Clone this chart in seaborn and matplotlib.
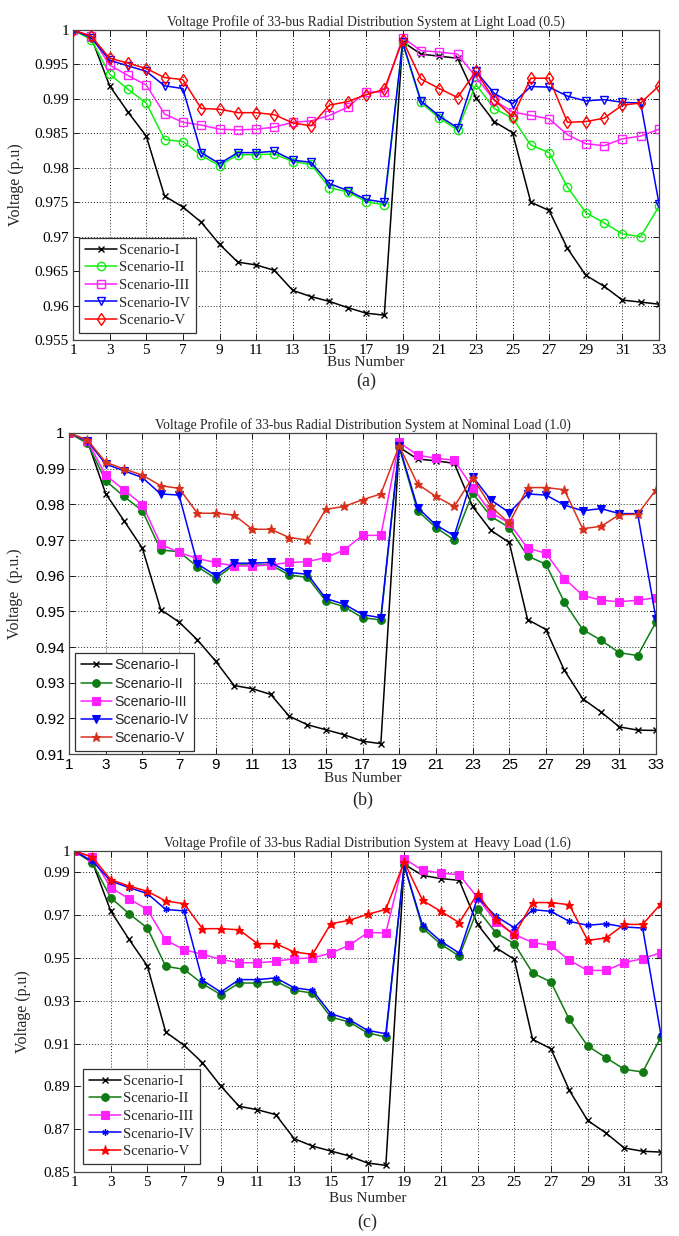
import numpy as np
import pandas as pd
import matplotlib
matplotlib.use("Agg")
import matplotlib.pyplot as plt
import seaborn as sns
from matplotlib.ticker import FixedLocator, FuncFormatter

# ---------------- data ----------------
buses = list(range(1, 34))
scenarios = ["Scenario-I", "Scenario-II", "Scenario-III", "Scenario-IV", "Scenario-V"]

# (a) light load 0.5
light_I = [1, 0.9989, 0.9919, 0.9881, 0.9846, 0.9759, 0.9743, 0.9721, 0.9689, 0.9663, 0.9659,
           0.9651, 0.9622, 0.9613, 0.9606, 0.9597, 0.9589, 0.9586, 0.9983, 0.9965, 0.9962, 0.9959,
           0.9902, 0.9867, 0.9851, 0.9750, 0.9738, 0.9683, 0.9644, 0.9628, 0.9608, 0.9605, 0.9602]
light_II = [1, 0.9986, 0.9936, 0.9914, 0.9894, 0.9841, 0.9838, 0.9818, 0.9803, 0.9819, 0.9819,
            0.9820, 0.9809, 0.9805, 0.9771, 0.9765, 0.9751, 0.9746, 0.9981, 0.9895, 0.9872, 0.9855,
            0.9921, 0.9886, 0.9872, 0.9833, 0.9822, 0.9772, 0.9735, 0.9720, 0.9704, 0.9700, 0.9744]
light_III = [1, 0.9991, 0.9949, 0.9934, 0.9920, 0.9878, 0.9866, 0.9862, 0.9856, 0.9855, 0.9856,
             0.9859, 0.9866, 0.9868, 0.9876, 0.9888, 0.9910, 0.9910, 0.9989, 0.9970, 0.9968, 0.9965,
             0.9932, 0.9898, 0.9881, 0.9876, 0.9871, 0.9848, 0.9835, 0.9832, 0.9842, 0.9846, 0.9856]
light_IV = [1, 0.9989, 0.9956, 0.9948, 0.9940, 0.9919, 0.9915, 0.9822, 0.9806, 0.9822, 0.9822,
            0.9824, 0.9811, 0.9808, 0.9777, 0.9767, 0.9754, 0.9750, 0.9982, 0.9897, 0.9875, 0.9858,
            0.9940, 0.9908, 0.9893, 0.9918, 0.9917, 0.9904, 0.9897, 0.9899, 0.9895, 0.9894, 0.9748]
light_V = [1, 0.9991, 0.9959, 0.9952, 0.9944, 0.9931, 0.9928, 0.9886, 0.9885, 0.9880, 0.9880,
           0.9877, 0.9865, 0.9861, 0.9891, 0.9896, 0.9906, 0.9914, 0.9985, 0.9929, 0.9915, 0.9902,
           0.9940, 0.9899, 0.9874, 0.9930, 0.9930, 0.9866, 0.9867, 0.9872, 0.9891, 0.9894, 0.9919]

# (b) nominal load 1.0
nominal_I = [1, 0.9978, 0.9830, 0.9754, 0.9677, 0.9505, 0.9470, 0.9420, 0.9360, 0.9292, 0.9283,
             0.9267, 0.9206, 0.9182, 0.9168, 0.9154, 0.9136, 0.9129, 0.9960, 0.9927, 0.9922, 0.9915,
             0.9794, 0.9727, 0.9693, 0.9477, 0.9449, 0.9335, 0.9255, 0.9218, 0.9176, 0.9167, 0.9166]
nominal_II = [1, 0.9971, 0.9866, 0.9822, 0.9782, 0.9672, 0.9667, 0.9625, 0.9592, 0.9630, 0.9630,
              0.9630, 0.9602, 0.9595, 0.9529, 0.9513, 0.9482, 0.9476, 0.9960, 0.9782, 0.9735, 0.9700,
              0.9831, 0.9766, 0.9735, 0.9655, 0.9632, 0.9526, 0.9449, 0.9419, 0.9384, 0.9376, 0.9470]
nominal_III = [1, 0.9978, 0.9882, 0.9840, 0.9799, 0.9688, 0.9665, 0.9648, 0.9637, 0.9627, 0.9627,
               0.9630, 0.9637, 0.9639, 0.9651, 0.9672, 0.9713, 0.9713, 0.9974, 0.9938, 0.9929, 0.9924,
               0.9847, 0.9777, 0.9747, 0.9677, 0.9663, 0.9592, 0.9545, 0.9531, 0.9527, 0.9531, 0.9538]
nominal_IV = [1, 0.9978, 0.9913, 0.9894, 0.9875, 0.9829, 0.9826, 0.9633, 0.9600, 0.9635, 0.9635,
              0.9637, 0.9609, 0.9604, 0.9536, 0.9520, 0.9491, 0.9482, 0.9964, 0.9791, 0.9742, 0.9712,
              0.9878, 0.9812, 0.9777, 0.9829, 0.9826, 0.9798, 0.9782, 0.9788, 0.9774, 0.9774, 0.9479]
nominal_V = [1, 0.9981, 0.9918, 0.9899, 0.9882, 0.9852, 0.9845, 0.9775, 0.9775, 0.9770, 0.9730,
             0.9730, 0.9707, 0.9700, 0.9786, 0.9794, 0.9813, 0.9829, 0.9964, 0.9857, 0.9822, 0.9794,
             0.9875, 0.9794, 0.9747, 0.9847, 0.9847, 0.9841, 0.9732, 0.9738, 0.9771, 0.9772, 0.9841]

# (c) heavy load 1.6
heavy_I = [1, 0.9949, 0.9720, 0.9587, 0.9463, 0.9154, 0.9092, 0.9011, 0.8902, 0.8807, 0.8791,
           0.8768, 0.8656, 0.8621, 0.8598, 0.8575, 0.8542, 0.8531, 0.9938, 0.9886, 0.9871, 0.9863,
           0.9657, 0.9548, 0.9494, 0.9120, 0.9076, 0.8882, 0.8741, 0.8682, 0.8612, 0.8597, 0.8593]
heavy_II = [1, 0.9945, 0.9782, 0.9707, 0.9640, 0.9461, 0.9447, 0.9380, 0.9329, 0.9383, 0.9383,
            0.9391, 0.9349, 0.9336, 0.9224, 0.9201, 0.9150, 0.9131, 0.9933, 0.9640, 0.9564, 0.9509,
            0.9727, 0.9618, 0.9567, 0.9430, 0.9388, 0.9213, 0.9089, 0.9034, 0.8980, 0.8967, 0.9131]
heavy_III = [1, 0.9972, 0.9829, 0.9777, 0.9726, 0.9583, 0.9539, 0.9517, 0.9494, 0.9478, 0.9478,
             0.9484, 0.9497, 0.9500, 0.9523, 0.9559, 0.9618, 0.9618, 0.9964, 0.9910, 0.9897, 0.9889,
             0.9782, 0.9668, 0.9611, 0.9572, 0.9559, 0.9489, 0.9442, 0.9442, 0.9478, 0.9497, 0.9525]
heavy_IV = [1, 0.9953, 0.9860, 0.9829, 0.9801, 0.9727, 0.9720, 0.9396, 0.9341, 0.9399, 0.9399,
            0.9407, 0.9361, 0.9349, 0.9240, 0.9212, 0.9162, 0.9146, 0.9933, 0.9653, 0.9578, 0.9523,
            0.9782, 0.9695, 0.9642, 0.9726, 0.9718, 0.9671, 0.9653, 0.9660, 0.9645, 0.9640, 0.9139]
heavy_V = [1, 0.9972, 0.9866, 0.9836, 0.9812, 0.9766, 0.9754, 0.9637, 0.9637, 0.9632, 0.9567,
           0.9567, 0.9528, 0.9517, 0.9660, 0.9676, 0.9704, 0.9727, 0.9949, 0.9769, 0.9718, 0.9665,
           0.9801, 0.9679, 0.9606, 0.9759, 0.9759, 0.9749, 0.9583, 0.9593, 0.9657, 0.9657, 0.9754]

xtick_labels = list(range(1, 34, 2))
yticks_a = [0.955, 0.96, 0.965, 0.97, 0.975, 0.98, 0.985, 0.99, 0.995, 1.0]
yticks_b = [0.91, 0.92, 0.93, 0.94, 0.95, 0.96, 0.97, 0.98, 0.99, 1.0]
yticks_c = [0.85, 0.87, 0.89, 0.91, 0.93, 0.95, 0.97, 0.99, 1.0]

titles = ["Voltage Profile of 33-bus Radial Distribution System at Light Load (0.5)",
          "Voltage Profile of 33-bus Radial Distribution System at Nominal Load (1.0)",
          "Voltage Profile of 33-bus Radial Distribution System at  Heavy Load (1.6)"]
ylabels = ["Voltage (p.u)", "Voltage  (p.u.)", "Voltage (p.u)"]
panel_tags = ["(a)", "(b)", "(c)"]

# ---------------- style ----------------
sns.set_theme(style="ticks")
SERIF = ["Liberation Serif", "DejaVu Serif"]
SANS = ["Liberation Sans", "DejaVu Sans"]
plt.rcParams["font.family"] = SERIF

fig = plt.figure(figsize=(6.79, 12.36), dpi=100)
W, H = 679.0, 1236.0


def add_ax(x0, y0, x1, y1):
    return fig.add_axes([x0 / W, 1 - y1 / H, (x1 - x0) / W, (y1 - y0) / H])


panels = [
    dict(box=(73, 30, 659, 340), data=[light_I, light_II, light_III, light_IV, light_V],
         yticks=yticks_a, colors=["black", "#11ee11", "#ff22ff", "#0000ff", "#ff0000"],
         markers=["x", "o", "s", "v", "d"], filled=False, tickfont=SERIF, legfont=SERIF,
         legsize=10.5, ylab_x=24, xlab_y=356, tag_y=381, title_y=15, leg=(79, 333)),
    dict(box=(69, 433, 656, 754), data=[nominal_I, nominal_II, nominal_III, nominal_IV, nominal_V],
         yticks=yticks_b, colors=["black", "#0b7d12", "#ff22ff", "#0000ff", "#d9301c"],
         markers=["x", "o", "s", "v", "*"], filled=True, tickfont=SANS, legfont=SANS,
         legsize=10.2, ylab_x=23, xlab_y=772, tag_y=800, title_y=419, leg=(75, 751)),
    dict(box=(74, 851, 661, 1172), data=[heavy_I, heavy_II, heavy_III, heavy_IV, heavy_V],
         yticks=yticks_c, colors=["black", "#127a12", "#ff22ff", "#0000ff", "#ff0000"],
         markers=["x", "o", "s", (6, 2, 0), "*"], filled=True, tickfont=SERIF, legfont=SERIF,
         legsize=10.5, ylab_x=31, xlab_y=1192, tag_y=1222, title_y=837, leg=(83, 1164)),
]

for i, p in enumerate(panels):
    x0, y0, x1, y1 = p["box"]
    ax = add_ax(x0, y0, x1, y1)
    for name, vals, col, mk in zip(scenarios, p["data"], p["colors"], p["markers"]):
        kw = dict(marker=mk, color=col, linewidth=1.1, markeredgecolor=col)
        if mk == "x" or isinstance(mk, tuple):
            kw.update(markersize=4.5, markeredgewidth=1.0)
        elif p["filled"]:
            kw.update(markersize=6.5 if mk == "*" else 5.5, markerfacecolor=col, markeredgewidth=0.8)
        else:
            kw.update(markersize=6, markerfacecolor="none", markeredgewidth=1.0)
        sns.lineplot(x=buses, y=vals, ax=ax, label=name, **kw)

    ax.set_xlim(1, 33)
    ax.set_ylim(p["yticks"][0], p["yticks"][-1])
    ax.xaxis.set_major_locator(FixedLocator(xtick_labels))
    ax.yaxis.set_major_locator(FixedLocator(p["yticks"]))
    ax.yaxis.set_major_formatter(FuncFormatter(lambda v, _: "%g" % round(v, 4)))
    ax.grid(True, color="#222222", linestyle=(0, (1, 2)), linewidth=0.7)
    ax.tick_params(direction="in", top=True, right=True, length=4, width=0.6,
                   labelsize=11, pad=3, colors="black")
    for lab in ax.get_xticklabels() + ax.get_yticklabels():
        lab.set_fontfamily(p["tickfont"])
    for s in ax.spines.values():
        s.set_color("#444444")
        s.set_linewidth(0.9)

    ax.set_title(titles[i], fontsize=9.8, fontfamily=SERIF, va="center")
    ax.title.set_position((0.5, 1 + (y0 - p["title_y"]) / (y1 - y0)))
    ax.set_xlabel("Bus Number", fontsize=11, fontfamily=SERIF)
    ax.xaxis.set_label_coords(0.5, -(p["xlab_y"] - y1) / (y1 - y0))
    ax.set_ylabel(ylabels[i], fontsize=11.5, fontfamily=SERIF)
    ax.yaxis.set_label_coords((p["ylab_x"] - x0) / (x1 - x0), 0.5)

    lx, ly = p["leg"]
    leg = ax.legend(loc="lower left",
                    bbox_to_anchor=((lx - x0) / (x1 - x0), (y1 - ly) / (y1 - y0)),
                    borderaxespad=0, frameon=True, fancybox=False, framealpha=1,
                    edgecolor="#333333", handlelength=2.2, handletextpad=0.15,
                    labelspacing=0.3, borderpad=0.4,
                    prop=dict(family=p["legfont"], size=p["legsize"]))
    leg.get_frame().set_linewidth(0.9)

    fig.text((x0 + x1) / 2 / W, 1 - p["tag_y"] / H, panel_tags[i], ha="center", va="center",
             fontsize=13, fontfamily=SERIF)

fig.savefig("out.png", dpi=100)
